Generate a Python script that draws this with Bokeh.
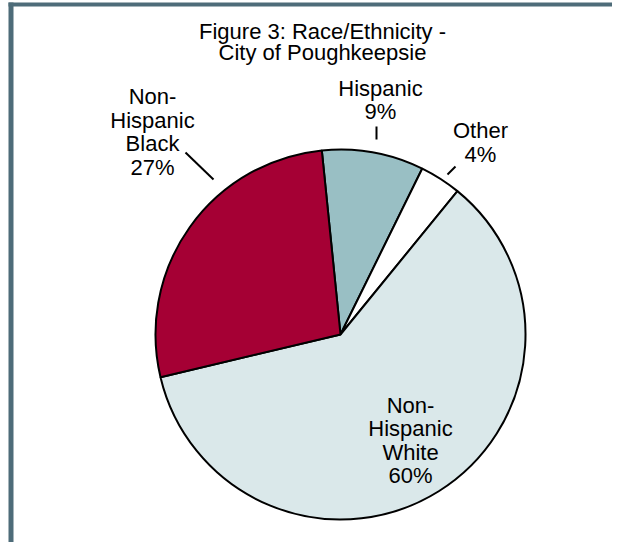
import re
import math
from bokeh.plotting import figure
from bokeh.models import Range1d, ColumnDataSource, BoxAnnotation
from bokeh.core.properties import value
from bokeh.embed import file_html
from bokeh.resources import INLINE

# ---- data ----
title_lines = ["Figure 3: Race/Ethnicity -", "City of Poughkeepsie"]
categories = ["Hispanic", "Other", "Non-Hispanic White", "Non-Hispanic Black"]
percent = [8.9, 3.6, 60.4, 27.1]

# ---- style ----
colors = ["#99BFC4", "#FFFFFF", "#DAE8EA", "#A50034"]
FRAME = "#4E6C79"
FONT = "Liberation Sans"
W, H = 612, 542


def px(x):
    return x


def py(y):
    return H - y


CX, CY, R = px(340), py(334), 185
START_DEG = 95.8
# label block centres (page px) and line spacing
label_pos = [(380, 99.5), (480, 142), (410, 440), (152, 131.5)]
LS = 23.5
leaders = [((376, 126), (376, 139)), ((447, 174), (455, 166)), None, ((185, 152), (213, 179))]

p = figure(width=W, height=H, x_range=Range1d(0, W), y_range=Range1d(0, H),
           output_backend="svg", toolbar_location=None,
           x_axis_location=None, y_axis_location=None, min_border=0)
p.grid.visible = False
p.outline_line_color = None
p.background_fill_color = "white"
p.border_fill_color = "white"

# frame
p.add_layout(BoxAnnotation(left=8, right=13, bottom=0, top=py(2), fill_color=FRAME,
                           fill_alpha=1, line_color=None))
p.add_layout(BoxAnnotation(left=8, right=W, bottom=py(6), top=py(2), fill_color=FRAME,
                           fill_alpha=1, line_color=None))

# pie
total = sum(percent)
starts, ends = [], []
cum = 0.0
for v in percent:
    a0 = math.radians(START_DEG) - cum / total * 2 * math.pi
    cum += v
    a1 = math.radians(START_DEG) - cum / total * 2 * math.pi
    starts.append(a1)
    ends.append(a0)
n = len(percent)
src = ColumnDataSource(dict(x=[CX] * n, y=[CY] * n, start=starts, end=ends, color=colors))
p.wedge(x="x", y="y", radius=R, start_angle="start", end_angle="end",
        fill_color="color", line_color="black", line_width=2, source=src)

# labels
tx, ty, tt = [], [], []
for name, v, (lx, ly) in zip(categories, percent, label_pos):
    lines = re.findall(r"[^\s-]+-?", name) + [f"{round(v)}%"]
    k = len(lines)
    for i, s in enumerate(lines):
        tx.append(px(lx))
        ty.append(py(ly + (i - (k - 1) / 2) * LS))
        tt.append(s)
p.text(x=tx, y=ty, text=tt, text_align="center", text_baseline="middle",
       text_font=value(FONT), text_font_size="22px", text_color="black")

# leader lines
lx0, ly0, lx1, ly1 = [], [], [], []
for ld in leaders:
    if ld:
        (a, b), (c, d) = ld
        lx0.append(px(a)); ly0.append(py(b)); lx1.append(px(c)); ly1.append(py(d))
p.segment(x0=lx0, y0=ly0, x1=lx1, y1=ly1, line_color="black", line_width=2)

# title
p.text(x=[px(322)] * 2, y=[py(31), py(52)], text=title_lines, text_align="center",
       text_baseline="middle", text_font=value(FONT), text_font_size="22px",
       text_color="black")

open("out.html", "w").write(file_html(p, INLINE))
